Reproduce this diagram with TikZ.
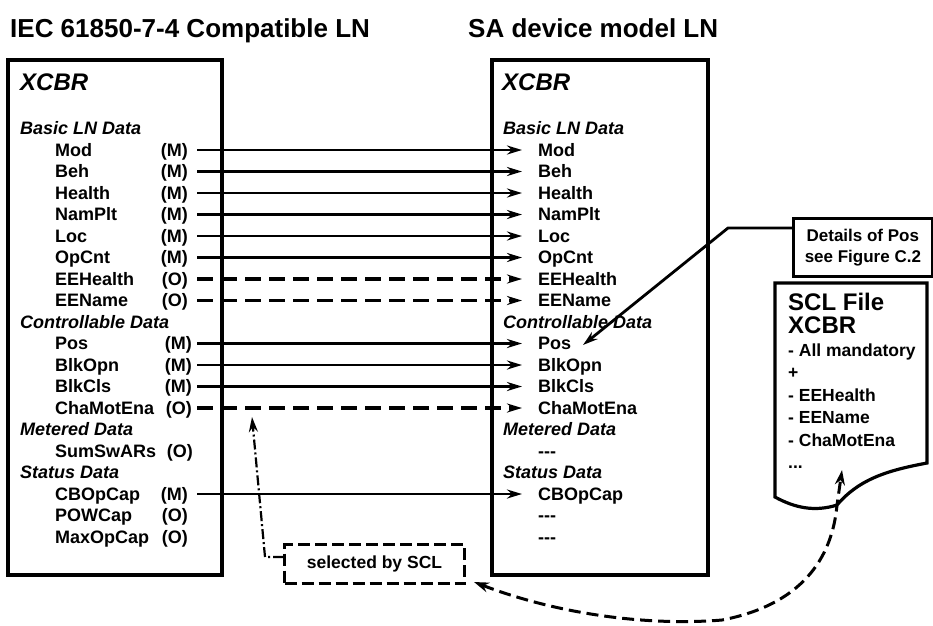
\documentclass[tikz,border=0pt]{standalone}
\usepackage{fontspec}
\setmainfont{Liberation Sans}
\usetikzlibrary{arrows.meta}
\tikzset{
  ttl/.style={font=\fontsize{26}{30}\selectfont\bfseries, anchor=west, inner sep=0pt, text height=18.6pt, text depth=0pt},
  item/.style={font=\fontsize{18}{20}\selectfont\bfseries, anchor=west, inner sep=0pt, text height=12.9pt, text depth=0pt},
  flag/.style={item, anchor=east},
  head/.style={font=\fontsize{18}{20}\selectfont\bfseries\itshape, anchor=west, inner sep=0pt, text height=12.9pt, text depth=0pt},
  lnname/.style={font=\fontsize{24}{28}\selectfont\bfseries\itshape, anchor=west, inner sep=0pt, text height=17.2pt, text depth=0pt},
  big/.style={font=\fontsize{24}{28}\selectfont\bfseries, anchor=west, inner sep=0pt, text height=17.2pt, text depth=0pt},
  scl/.style={font=\fontsize{17.5}{20}\selectfont\bfseries, anchor=west, inner sep=0pt, text height=12.5pt, text depth=0pt},
  frame/.style={line width=3.2pt},
  tip/.style={-{Stealth[length=15pt,width=9pt]}},
  solidconn/.style={line width=2.8pt, tip},
  dashconn/.style={line width=3.6pt, dash pattern=on 16pt off 8pt, tip},
  selconn/.style={line width=2.2pt, dash pattern=on 10pt off 3pt on 2pt off 3pt, tip},
  sclconn/.style={line width=3pt, dash pattern=on 12pt off 6pt, {Stealth[length=15pt,width=10pt]}-{Stealth[length=15pt,width=10pt]}},
}
\begin{document}
\begin{tikzpicture}[x=1pt,y=-1pt]
\useasboundingbox[fill=white] (0,0) rectangle (933,625);

% titles
\node[ttl] (t1) at (10,28) {IEC 61850-7-4 Compatible LN};
\node[ttl] (t2) at (468,28) {SA device model LN};

% boxes
\draw[frame] (8,60) rectangle (222,575);
\draw[frame] (492,60) rectangle (708,575);

% left box contents
\node[lnname] (lx) at (20,82) {XCBR};
\node[head] (lh1) at (20,128.5) {Basic LN Data};
\node[head] (lh2) at (20,322) {Controllable Data};
\node[head] (lh3) at (20,429.5) {Metered Data};
\node[head] (lh4) at (20,472.5) {Status Data};
\foreach \i/\t/\f/\fx in {0/Mod/M/188, 1/Beh/M/188, 2/Health/M/188, 3/NamPlt/M/188,
  4/Loc/M/188, 5/OpCnt/M/188, 6/EEHealth/O/188, 7/EEName/O/188,
  9/Pos/M/192, 10/BlkOpn/M/192, 11/BlkCls/M/192, 12/ChaMotEna/O/192,
  14/SumSwARs/O/193, 16/CBOpCap/M/188, 17/POWCap/O/188, 18/MaxOpCap/O/188} {
  \node[item] (L\i) at (55,{150+21.5*\i}) {\t};
  \node[flag] (F\i) at (\fx,{150+21.5*\i}) {(\f)};
}

% right box contents
\node[lnname] (rx) at (502,82) {XCBR};
\node[head] (rh1) at (503,128.5) {Basic LN Data};
\node[head] (rh2) at (503,322) {Controllable Data};
\node[head] (rh3) at (503,429.5) {Metered Data};
\node[head] (rh4) at (503,472.5) {Status Data};
\foreach \i/\t in {0/Mod, 1/Beh, 2/Health, 3/NamPlt, 4/Loc, 5/OpCnt, 6/EEHealth, 7/EEName,
  9/Pos, 10/BlkOpn, 11/BlkCls, 12/ChaMotEna, 16/CBOpCap} {
  \node[item] (R\i) at (538,{150+21.5*\i}) {\t};
}
\node[item] (R14) at (538,451) {-{}-{}-};
\node[item] (R17) at (538,515.5) {-{}-{}-};
\node[item] (R18) at (538,537) {-{}-{}-};

% connectors
\coordinate (ls) at (197,0);
\coordinate (le) at (522,0);
\foreach \i in {0,1,2,3,4,5,9,10,11,16} {
  \draw[solidconn] (F\i.east -| ls) -- (R\i.west -| le);
}
\foreach \i in {6,7,12} {
  \draw[dashconn] (F\i.east -| ls) -- (R\i.west -| le);
}

% details box
\node[draw, frame, anchor=north west, minimum width=138.5pt, minimum height=58pt, inner sep=0pt,
  align=center, font=\fontsize{17}{21}\selectfont\bfseries] (det) at (792,217) {Details of Pos\\see Figure C.2};
\coordinate (detk) at (728,228);
\coordinate (postip) at (583,345);
\draw[line width=2.8pt, tip] (det.west |- detk) -- (detk) -- (postip);

% SCL file document
\draw[frame, fill=white] (775,283) -- (927,283) -- (927,463)
  .. controls (890,470) and (860,478) .. (837,505)
  .. controls (815,512) and (795,508) .. (775,497) -- cycle;
\node[big] (s1) at (788,302) {SCL File};
\node[big] (s2) at (788,325) {XCBR};
\node[scl] (s3) at (788,350) {- All mandatory};
\node[scl] (s4) at (788,372.5) {+};
\node[scl] (s5) at (788,395) {- EEHealth};
\node[scl] (s6) at (788,417.5) {- EEName};
\node[scl] (s7) at (788,440) {- ChaMotEna};
\node[scl] (s8) at (788,462) {...};

% selected by SCL
\node[draw, line width=3pt, dash pattern=on 12pt off 5pt, anchor=north west, minimum width=180pt,
  minimum height=39pt, inner sep=0pt, font=\fontsize{17.5}{20}\selectfont\bfseries] (sel) at (283,543) {selected by SCL};
\coordinate (selk) at (265,557);
\coordinate (seltip) at (252,417);
\draw[selconn] (sel.west |- selk) -- (selk) -- (seltip);

% SCL link
\coordinate (sclA) at (474,582);
\coordinate (sclB) at (842,470);
\draw[sclconn] (sclA) .. controls (560,615) and (650,626) .. (722,620)
  .. controls (800,605) and (832,560) .. (837,505) -- (sclB);
\end{tikzpicture}
\end{document}
